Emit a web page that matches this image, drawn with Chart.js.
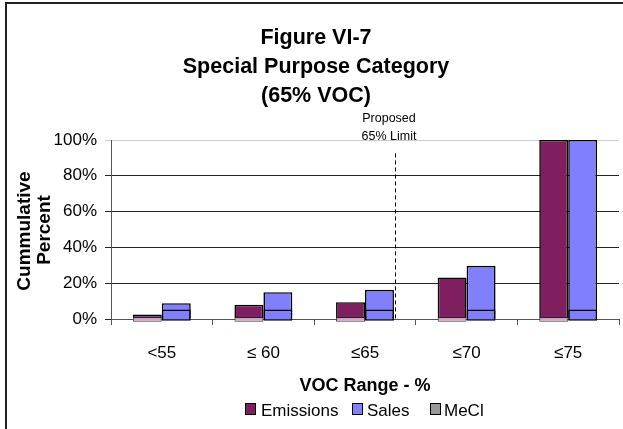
<!DOCTYPE html>
<html>
<head>
<meta charset="utf-8">
<script src="https://cdn.jsdelivr.net/npm/chart.js@4/dist/chart.umd.min.js"></script>
<style>
html,body{margin:0;padding:0;background:#fff;}
#wrap{width:623px;height:429px;}
</style>
</head>
<body>
<div id="wrap"><canvas id="c" width="623" height="429"></canvas></div>
<script>
// ---- data ----
const categories = ['<55', '\u2264 60', '\u226465', '\u226470', '\u226475'];
const emissions = [2.5, 7.9, 9.4, 23.2, 100];
const sales = [8.8, 15, 16.3, 29.7, 100];
const mecl = [1, 1, 1, 1, 1];
const salesBase = [5.3, 5.3, 5.3, 5.3, 5.3];
const yTicks = [0, 20, 40, 60, 80, 100];
const limitIndex = 2.3;   // proposed 65% limit position on category axis

const FONT = "'Liberation Sans', Arial, sans-serif";
const C_EM = '#7F1F5F', C_SA = '#8080FF', C_ME = '#D4A6C8';

const below = -1.5;
const decor = {
  id: 'decor',
  afterDraw(chart) {
    const ctx = chart.ctx;
    const xs = chart.scales.x, ys = chart.scales.y;
    ctx.save();
    // outer border
    ctx.strokeStyle = '#222'; ctx.lineWidth = 2;
    ctx.strokeRect(6, 3, 640, 460);
    // titles
    ctx.fillStyle = '#000';
    ctx.textAlign = 'center'; ctx.textBaseline = 'alphabetic';
    ctx.font = 'bold 21.5px ' + FONT;
    ctx.fillText('Figure VI-7', 316, 44);
    ctx.fillText('Special Purpose Category', 316, 73);
    ctx.fillText('(65% VOC)', 316, 102);
    // limit annotation
    ctx.font = '12.5px ' + FONT;
    ctx.fillText('Proposed', 389, 122);
    ctx.fillText('65% Limit', 389, 139.5);
    const p2 = xs.getPixelForValue(2), p3 = xs.getPixelForValue(3);
    const lx = Math.round(p2 + (limitIndex - 2) * (p3 - p2)) + 0.5;
    ctx.strokeStyle = '#000'; ctx.lineWidth = 1; ctx.setLineDash([4, 3]);
    ctx.beginPath(); ctx.moveTo(lx, ys.getPixelForValue(92.5)); ctx.lineTo(lx, ys.getPixelForValue(0)); ctx.stroke();
    ctx.setLineDash([]);
    // y title
    ctx.font = 'bold 19px ' + FONT;
    ctx.save();
    ctx.translate(25, 231); ctx.rotate(-Math.PI / 2);
    ctx.textBaseline = 'middle';
    ctx.fillText('Cummulative', 0, 0);
    ctx.restore();
    ctx.save();
    ctx.translate(45, 230); ctx.rotate(-Math.PI / 2);
    ctx.textBaseline = 'middle';
    ctx.fillText('Percent', 0, 0);
    ctx.restore();
    // x title
    ctx.font = 'bold 18px ' + FONT;
    ctx.textBaseline = 'middle';
    ctx.fillText('VOC Range - %', (chart.chartArea.left + chart.chartArea.right) / 2, 386);
    // legend
    const items = [['Emissions', C_EM, 245, 261], ['Sales', C_SA, 352, 367], ['MeCl', '#999999', 430, 444]];
    ctx.font = '17px ' + FONT; ctx.textAlign = 'left'; ctx.textBaseline = 'alphabetic';
    items.forEach(([t, col, bx, tx]) => {
      ctx.fillStyle = col; ctx.fillRect(bx, 403, 10, 11);
      ctx.strokeStyle = '#000'; ctx.lineWidth = 1; ctx.strokeRect(bx + 0.5, 403.5, 10, 11);
      ctx.fillStyle = '#000'; ctx.fillText(t, tx, 416);
    });
    ctx.restore();
  }
};

const common = { categoryPercentage: 0.57, barPercentage: 1.0, borderColor: '#000', borderWidth: 1.6, borderSkipped: false };
new Chart(document.getElementById('c'), {
  type: 'bar',
  data: {
    labels: categories,
    datasets: [
      Object.assign({ label: 'MeCl', data: mecl.map(v => [below, v]), backgroundColor: C_ME, stack: 'e', clip: false }, common, { borderWidth: 1, borderColor: '#444' }),
      Object.assign({ label: 'Sales base', data: salesBase.map(v => [-1, v]), backgroundColor: C_SA, stack: 's', clip: false }, common),
      Object.assign({ label: 'Emissions', data: emissions, backgroundColor: C_EM, stack: 'e' }, common),
      Object.assign({ label: 'Sales', data: sales, backgroundColor: C_SA, stack: 's' }, common)
    ]
  },
  options: {
    responsive: false,
    animation: false,
    layout: { padding: { top: 140, right: 4, left: 0, bottom: 0 } },
    plugins: { legend: { display: false }, title: { display: false }, tooltip: { enabled: false } },
    scales: {
      x: {
        stacked: true,
        grid: { drawOnChartArea: false, drawTicks: true, tickLength: 6, color: '#555', offset: true },
        border: { display: true, color: '#555', width: 1 },
        ticks: { font: { family: FONT, size: 17 }, color: '#000', padding: 18, maxRotation: 0 },
        afterFit(s) { s.height = 110; }
      },
      y: {
        stacked: false,
        min: 0, max: 100,
        afterBuildTicks(s) { s.ticks = yTicks.map(v => ({ value: v })); },
        grid: { color: ctx => (ctx.tick && ctx.tick.value === 100 ? '#cccccc' : '#222222'), tickLength: 6 },
        border: { display: true, color: '#555', width: 1 },
        ticks: { font: { family: FONT, size: 17 }, color: '#000', padding: 8, callback: v => v + '%' },
        afterFit(s) { s.width = 111; }
      }
    }
  },
  plugins: [decor]
});
</script>
</body>
</html>
